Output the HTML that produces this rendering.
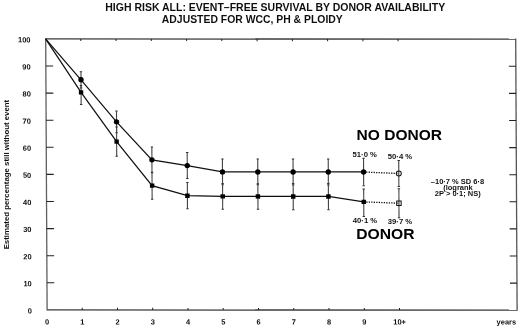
<!DOCTYPE html><html><head><meta charset="utf-8"><style>html,body{margin:0;padding:0;background:#fff}body{width:520px;height:328px;overflow:hidden}svg{display:block}text{font-family:"Liberation Sans",sans-serif}</style></head><body>
<svg width="520" height="328" viewBox="0 0 520 328">
<defs><filter id="bl" x="0" y="0" width="1" height="1"><feGaussianBlur stdDeviation="0.3"/></filter></defs><g filter="url(#bl)"><rect width="520" height="328" fill="#fff"/>
<text x="275.2" y="10.6" font-size="10" font-weight="bold" textLength="339.9" lengthAdjust="spacingAndGlyphs" text-anchor="middle" fill="#111">HIGH RISK ALL: EVENT–FREE SURVIVAL BY DONOR AVAILABILITY</text>
<text x="252.3" y="22.8" font-size="10" font-weight="bold" textLength="180.9" lengthAdjust="spacingAndGlyphs" text-anchor="middle" fill="#111">ADJUSTED FOR WCC, PH &amp; PLOIDY</text>
<text transform="translate(8.6,174.6) rotate(-90)" font-size="8.1" font-weight="bold" textLength="149.5" lengthAdjust="spacingAndGlyphs" text-anchor="middle" fill="#111">Estimated percentage still without event</text>
<g transform="matrix(1,0.0006,0.0052,1,-0.203,-0.028)">
<line x1="45.7" y1="38.9" x2="515.7" y2="38.9" stroke="#3a3a3a" stroke-width="1.3"/>
<line x1="45.7" y1="309.9" x2="515.7" y2="309.9" stroke="#3a3a3a" stroke-width="1.3"/>
<line x1="45.7" y1="38.3" x2="45.7" y2="310.5" stroke="#606060" stroke-width="1.3"/>
<line x1="515.7" y1="38.3" x2="515.7" y2="310.5" stroke="#555" stroke-width="1.3"/>
<line x1="45.7" y1="66.0" x2="53" y2="66.0" stroke="#222" stroke-width="1.1"/>
<line x1="508.7" y1="66.0" x2="515.7" y2="66.0" stroke="#222" stroke-width="1.1"/>
<line x1="45.7" y1="93.1" x2="53" y2="93.1" stroke="#222" stroke-width="1.1"/>
<line x1="508.7" y1="93.1" x2="515.7" y2="93.1" stroke="#222" stroke-width="1.1"/>
<line x1="45.7" y1="120.2" x2="53" y2="120.2" stroke="#222" stroke-width="1.1"/>
<line x1="508.7" y1="120.2" x2="515.7" y2="120.2" stroke="#222" stroke-width="1.1"/>
<line x1="45.7" y1="147.3" x2="53" y2="147.3" stroke="#222" stroke-width="1.1"/>
<line x1="508.7" y1="147.3" x2="515.7" y2="147.3" stroke="#222" stroke-width="1.1"/>
<line x1="45.7" y1="174.4" x2="53" y2="174.4" stroke="#222" stroke-width="1.1"/>
<line x1="508.7" y1="174.4" x2="515.7" y2="174.4" stroke="#222" stroke-width="1.1"/>
<line x1="45.7" y1="201.5" x2="53" y2="201.5" stroke="#222" stroke-width="1.1"/>
<line x1="508.7" y1="201.5" x2="515.7" y2="201.5" stroke="#222" stroke-width="1.1"/>
<line x1="45.7" y1="228.6" x2="53" y2="228.6" stroke="#222" stroke-width="1.1"/>
<line x1="508.7" y1="228.6" x2="515.7" y2="228.6" stroke="#222" stroke-width="1.1"/>
<line x1="45.7" y1="255.7" x2="53" y2="255.7" stroke="#222" stroke-width="1.1"/>
<line x1="508.7" y1="255.7" x2="515.7" y2="255.7" stroke="#222" stroke-width="1.1"/>
<line x1="45.7" y1="282.8" x2="53" y2="282.8" stroke="#222" stroke-width="1.1"/>
<line x1="508.7" y1="282.8" x2="515.7" y2="282.8" stroke="#222" stroke-width="1.1"/>
<text x="30.5" y="42.4" font-size="7.5" font-weight="bold" text-anchor="end" fill="#111">100</text>
<text x="30.5" y="69.5" font-size="7.5" font-weight="bold" text-anchor="end" fill="#111">90</text>
<text x="30.5" y="96.6" font-size="7.5" font-weight="bold" text-anchor="end" fill="#111">80</text>
<text x="30.5" y="123.7" font-size="7.5" font-weight="bold" text-anchor="end" fill="#111">70</text>
<text x="30.5" y="150.8" font-size="7.5" font-weight="bold" text-anchor="end" fill="#111">60</text>
<text x="30.5" y="177.9" font-size="7.5" font-weight="bold" text-anchor="end" fill="#111">50</text>
<text x="30.5" y="205.0" font-size="7.5" font-weight="bold" text-anchor="end" fill="#111">40</text>
<text x="30.5" y="232.1" font-size="7.5" font-weight="bold" text-anchor="end" fill="#111">30</text>
<text x="30.5" y="259.2" font-size="7.5" font-weight="bold" text-anchor="end" fill="#111">20</text>
<text x="30.5" y="286.3" font-size="7.5" font-weight="bold" text-anchor="end" fill="#111">10</text>
<text x="30.5" y="313.4" font-size="7.5" font-weight="bold" text-anchor="end" fill="#111">0</text>
<line x1="80.8" y1="38.9" x2="80.8" y2="41" stroke="#222" stroke-width="1"/>
<line x1="80.8" y1="309.9" x2="80.8" y2="307.8" stroke="#222" stroke-width="1"/>
<line x1="116.1" y1="38.9" x2="116.1" y2="41" stroke="#222" stroke-width="1"/>
<line x1="116.1" y1="309.9" x2="116.1" y2="307.8" stroke="#222" stroke-width="1"/>
<line x1="151.3" y1="38.9" x2="151.3" y2="41" stroke="#222" stroke-width="1"/>
<line x1="151.3" y1="309.9" x2="151.3" y2="307.8" stroke="#222" stroke-width="1"/>
<line x1="186.6" y1="38.9" x2="186.6" y2="41" stroke="#222" stroke-width="1"/>
<line x1="186.6" y1="309.9" x2="186.6" y2="307.8" stroke="#222" stroke-width="1"/>
<line x1="221.8" y1="38.9" x2="221.8" y2="41" stroke="#222" stroke-width="1"/>
<line x1="221.8" y1="309.9" x2="221.8" y2="307.8" stroke="#222" stroke-width="1"/>
<line x1="257.1" y1="38.9" x2="257.1" y2="41" stroke="#222" stroke-width="1"/>
<line x1="257.1" y1="309.9" x2="257.1" y2="307.8" stroke="#222" stroke-width="1"/>
<line x1="292.4" y1="38.9" x2="292.4" y2="41" stroke="#222" stroke-width="1"/>
<line x1="292.4" y1="309.9" x2="292.4" y2="307.8" stroke="#222" stroke-width="1"/>
<line x1="327.6" y1="38.9" x2="327.6" y2="41" stroke="#222" stroke-width="1"/>
<line x1="327.6" y1="309.9" x2="327.6" y2="307.8" stroke="#222" stroke-width="1"/>
<line x1="362.9" y1="38.9" x2="362.9" y2="41" stroke="#222" stroke-width="1"/>
<line x1="362.9" y1="309.9" x2="362.9" y2="307.8" stroke="#222" stroke-width="1"/>
<line x1="398.1" y1="38.9" x2="398.1" y2="41" stroke="#222" stroke-width="1"/>
<line x1="398.1" y1="309.9" x2="398.1" y2="307.8" stroke="#222" stroke-width="1"/>
<text x="45.6" y="324.4" font-size="7.5" font-weight="bold" text-anchor="middle" fill="#111">0</text>
<text x="80.8" y="324.4" font-size="7.5" font-weight="bold" text-anchor="middle" fill="#111">1</text>
<text x="116.1" y="324.4" font-size="7.5" font-weight="bold" text-anchor="middle" fill="#111">2</text>
<text x="151.3" y="324.4" font-size="7.5" font-weight="bold" text-anchor="middle" fill="#111">3</text>
<text x="186.6" y="324.4" font-size="7.5" font-weight="bold" text-anchor="middle" fill="#111">4</text>
<text x="221.8" y="324.4" font-size="7.5" font-weight="bold" text-anchor="middle" fill="#111">5</text>
<text x="257.1" y="324.4" font-size="7.5" font-weight="bold" text-anchor="middle" fill="#111">6</text>
<text x="292.4" y="324.4" font-size="7.5" font-weight="bold" text-anchor="middle" fill="#111">7</text>
<text x="327.6" y="324.4" font-size="7.5" font-weight="bold" text-anchor="middle" fill="#111">8</text>
<text x="362.9" y="324.4" font-size="7.5" font-weight="bold" text-anchor="middle" fill="#111">9</text>
<text x="398.1" y="324.4" font-size="7.5" font-weight="bold" text-anchor="middle" fill="#111">10+</text>
<text x="495.1" y="324.2" font-size="7.5" font-weight="bold" fill="#111">years</text>
<line x1="80.8" y1="71.8" x2="80.8" y2="88.0" stroke="#444" stroke-width="1.1"/>
<line x1="79.6" y1="71.8" x2="82.0" y2="71.8" stroke="#333" stroke-width="1"/>
<line x1="79.6" y1="88.0" x2="82.0" y2="88.0" stroke="#333" stroke-width="1"/>
<line x1="116.1" y1="110.9" x2="116.1" y2="132.7" stroke="#444" stroke-width="1.1"/>
<line x1="114.9" y1="110.9" x2="117.3" y2="110.9" stroke="#333" stroke-width="1"/>
<line x1="114.9" y1="132.7" x2="117.3" y2="132.7" stroke="#333" stroke-width="1"/>
<line x1="151.3" y1="146.9" x2="151.3" y2="172.7" stroke="#444" stroke-width="1.1"/>
<line x1="150.2" y1="146.9" x2="152.5" y2="146.9" stroke="#333" stroke-width="1"/>
<line x1="150.2" y1="172.7" x2="152.5" y2="172.7" stroke="#333" stroke-width="1"/>
<line x1="186.6" y1="152.5" x2="186.6" y2="178.5" stroke="#444" stroke-width="1.1"/>
<line x1="185.4" y1="152.5" x2="187.8" y2="152.5" stroke="#333" stroke-width="1"/>
<line x1="185.4" y1="178.5" x2="187.8" y2="178.5" stroke="#333" stroke-width="1"/>
<line x1="221.8" y1="158.9" x2="221.8" y2="184.7" stroke="#444" stroke-width="1.1"/>
<line x1="220.7" y1="158.9" x2="223.0" y2="158.9" stroke="#333" stroke-width="1"/>
<line x1="220.7" y1="184.7" x2="223.0" y2="184.7" stroke="#333" stroke-width="1"/>
<line x1="257.1" y1="158.9" x2="257.1" y2="184.7" stroke="#444" stroke-width="1.1"/>
<line x1="255.9" y1="158.9" x2="258.3" y2="158.9" stroke="#333" stroke-width="1"/>
<line x1="255.9" y1="184.7" x2="258.3" y2="184.7" stroke="#333" stroke-width="1"/>
<line x1="292.4" y1="158.8" x2="292.4" y2="184.8" stroke="#444" stroke-width="1.1"/>
<line x1="291.2" y1="158.8" x2="293.6" y2="158.8" stroke="#333" stroke-width="1"/>
<line x1="291.2" y1="184.8" x2="293.6" y2="184.8" stroke="#333" stroke-width="1"/>
<line x1="327.6" y1="158.8" x2="327.6" y2="184.8" stroke="#444" stroke-width="1.1"/>
<line x1="326.4" y1="158.8" x2="328.8" y2="158.8" stroke="#333" stroke-width="1"/>
<line x1="326.4" y1="184.8" x2="328.8" y2="184.8" stroke="#333" stroke-width="1"/>
<line x1="362.9" y1="158.0" x2="362.9" y2="185.5" stroke="#444" stroke-width="1.1"/>
<line x1="361.7" y1="158.0" x2="364.1" y2="158.0" stroke="#333" stroke-width="1"/>
<line x1="361.7" y1="185.5" x2="364.1" y2="185.5" stroke="#333" stroke-width="1"/>
<line x1="398.1" y1="160.3" x2="398.1" y2="186.3" stroke="#444" stroke-width="1.1"/>
<line x1="396.9" y1="160.3" x2="399.3" y2="160.3" stroke="#333" stroke-width="1"/>
<line x1="396.9" y1="186.3" x2="399.3" y2="186.3" stroke="#333" stroke-width="1"/>
<line x1="80.8" y1="85.5" x2="80.8" y2="104.5" stroke="#444" stroke-width="1.1"/>
<line x1="79.6" y1="85.5" x2="82.0" y2="85.5" stroke="#333" stroke-width="1"/>
<line x1="79.6" y1="104.5" x2="82.0" y2="104.5" stroke="#333" stroke-width="1"/>
<line x1="116.1" y1="127.0" x2="116.1" y2="156.2" stroke="#444" stroke-width="1.1"/>
<line x1="114.9" y1="127.0" x2="117.3" y2="127.0" stroke="#333" stroke-width="1"/>
<line x1="114.9" y1="156.2" x2="117.3" y2="156.2" stroke="#333" stroke-width="1"/>
<line x1="151.3" y1="172.1" x2="151.3" y2="199.1" stroke="#444" stroke-width="1.1"/>
<line x1="150.2" y1="172.1" x2="152.5" y2="172.1" stroke="#333" stroke-width="1"/>
<line x1="150.2" y1="199.1" x2="152.5" y2="199.1" stroke="#333" stroke-width="1"/>
<line x1="186.6" y1="182.4" x2="186.6" y2="208.7" stroke="#444" stroke-width="1.1"/>
<line x1="185.4" y1="182.4" x2="187.8" y2="182.4" stroke="#333" stroke-width="1"/>
<line x1="185.4" y1="208.7" x2="187.8" y2="208.7" stroke="#333" stroke-width="1"/>
<line x1="221.8" y1="183.5" x2="221.8" y2="209.1" stroke="#444" stroke-width="1.1"/>
<line x1="220.7" y1="183.5" x2="223.0" y2="183.5" stroke="#333" stroke-width="1"/>
<line x1="220.7" y1="209.1" x2="223.0" y2="209.1" stroke="#333" stroke-width="1"/>
<line x1="257.1" y1="183.5" x2="257.1" y2="209.0" stroke="#444" stroke-width="1.1"/>
<line x1="255.9" y1="183.5" x2="258.3" y2="183.5" stroke="#333" stroke-width="1"/>
<line x1="255.9" y1="209.0" x2="258.3" y2="209.0" stroke="#333" stroke-width="1"/>
<line x1="292.4" y1="183.3" x2="292.4" y2="209.5" stroke="#444" stroke-width="1.1"/>
<line x1="291.2" y1="183.3" x2="293.6" y2="183.3" stroke="#333" stroke-width="1"/>
<line x1="291.2" y1="209.5" x2="293.6" y2="209.5" stroke="#333" stroke-width="1"/>
<line x1="327.6" y1="183.3" x2="327.6" y2="209.5" stroke="#444" stroke-width="1.1"/>
<line x1="326.4" y1="183.3" x2="328.8" y2="183.3" stroke="#333" stroke-width="1"/>
<line x1="326.4" y1="209.5" x2="328.8" y2="209.5" stroke="#333" stroke-width="1"/>
<line x1="362.9" y1="188.9" x2="362.9" y2="216.4" stroke="#444" stroke-width="1.1"/>
<line x1="361.7" y1="188.9" x2="364.1" y2="188.9" stroke="#333" stroke-width="1"/>
<line x1="361.7" y1="216.4" x2="364.1" y2="216.4" stroke="#333" stroke-width="1"/>
<line x1="398.1" y1="188.5" x2="398.1" y2="217.5" stroke="#444" stroke-width="1.1"/>
<line x1="396.9" y1="188.5" x2="399.3" y2="188.5" stroke="#333" stroke-width="1"/>
<line x1="396.9" y1="217.5" x2="399.3" y2="217.5" stroke="#333" stroke-width="1"/>
<polyline points="45.6,38.9 80.8,79.8 116.1,121.8 151.3,159.8 186.6,165.5 221.8,171.8 257.1,171.8 292.4,171.8 327.6,171.8 362.9,171.8" fill="none" stroke="#111" stroke-width="1.25"/>
<polyline points="45.6,38.9 80.8,92.4 116.1,141.6 151.3,185.6 186.6,195.6 221.8,196.3 257.1,196.3 292.4,196.3 327.6,196.3 362.9,201.7" fill="none" stroke="#111" stroke-width="1.25"/>
<line x1="362.9" y1="171.8" x2="398.1" y2="173.3" stroke="#111" stroke-width="1.3" stroke-dasharray="1.3,1.2"/>
<line x1="362.9" y1="201.7" x2="398.1" y2="203.0" stroke="#111" stroke-width="1.3" stroke-dasharray="1.3,1.2"/>
<circle cx="80.8" cy="79.8" r="2.7" fill="#000"/>
<circle cx="116.1" cy="121.8" r="2.7" fill="#000"/>
<circle cx="151.3" cy="159.8" r="2.7" fill="#000"/>
<circle cx="186.6" cy="165.5" r="2.7" fill="#000"/>
<circle cx="221.8" cy="171.8" r="2.7" fill="#000"/>
<circle cx="257.1" cy="171.8" r="2.7" fill="#000"/>
<circle cx="292.4" cy="171.8" r="2.7" fill="#000"/>
<circle cx="327.6" cy="171.8" r="2.7" fill="#000"/>
<circle cx="362.9" cy="171.8" r="2.7" fill="#000"/>
<rect x="78.6" y="90.2" width="4.4" height="4.4" fill="#000"/>
<rect x="113.9" y="139.4" width="4.4" height="4.4" fill="#000"/>
<rect x="149.2" y="183.4" width="4.4" height="4.4" fill="#000"/>
<rect x="184.4" y="193.4" width="4.4" height="4.4" fill="#000"/>
<rect x="219.7" y="194.1" width="4.4" height="4.4" fill="#000"/>
<rect x="254.9" y="194.1" width="4.4" height="4.4" fill="#000"/>
<rect x="290.2" y="194.1" width="4.4" height="4.4" fill="#000"/>
<rect x="325.4" y="194.1" width="4.4" height="4.4" fill="#000"/>
<rect x="360.7" y="199.5" width="4.4" height="4.4" fill="#000"/>
<circle cx="398.1" cy="173.3" r="2.5" fill="none" stroke="#111" stroke-width="1"/>
<rect x="395.9" y="200.8" width="4.4" height="4.4" fill="none" stroke="#111" stroke-width="1"/>
</g>
<text x="364.7" y="157.3" font-size="7.7" font-weight="bold" text-anchor="middle" fill="#111">51·0 %</text>
<text x="400" y="158.7" font-size="7.7" font-weight="bold" text-anchor="middle" fill="#111">50·4 %</text>
<text x="365" y="223" font-size="7.7" font-weight="bold" text-anchor="middle" fill="#111">40·1 %</text>
<text x="400" y="224.2" font-size="7.7" font-weight="bold" text-anchor="middle" fill="#111">39·7 %</text>
<text x="356.6" y="139.6" font-size="14.6" font-weight="bold" textLength="85.4" lengthAdjust="spacingAndGlyphs" fill="#000">NO DONOR</text>
<text x="356.2" y="238.9" font-size="14.6" font-weight="bold" textLength="58.3" lengthAdjust="spacingAndGlyphs" fill="#000">DONOR</text>
<text x="457.5" y="184.1" font-size="7.5" font-weight="bold" text-anchor="middle" fill="#111">–10·7 % SD 6·8</text>
<text x="458" y="190.1" font-size="7.5" font-weight="bold" text-anchor="middle" fill="#111">(logrank</text>
<text x="457.8" y="196.4" font-size="7.5" font-weight="bold" text-anchor="middle" fill="#111">2P &gt; 0·1; NS)</text>
</g></svg></body></html>
